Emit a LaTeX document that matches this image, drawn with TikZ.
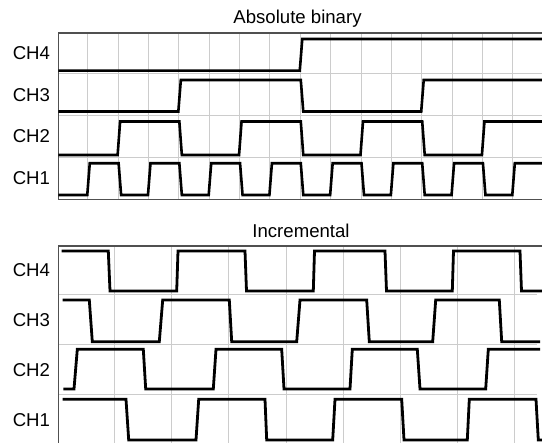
\documentclass[tikz,border=0pt]{standalone}
\usepackage{fontspec}
\setmainfont{Liberation Sans}
\definecolor{gridgray}{HTML}{CCCCCC}
\definecolor{framegray}{HTML}{505050}
\newcommand\gx[1]{(57.4+30.36*(#1))}
\newcommand\hx[1]{(57.06+57.24*(#1))}
\begin{document}
\begin{tikzpicture}[x=1pt,y=-1pt,
  gridline/.style={gridgray,line width=1pt},
  frameline/.style={framegray,line width=1.4pt},
  wave/.style={black,line width=2.6pt,line join=miter,line cap=butt},
  wavei/.style={black,line width=2.8pt,line join=miter,line cap=butt},
  lbl/.style={font=\fontsize{18.6}{20}\selectfont,inner sep=0pt},
  ]
\useasboundingbox (0,0) rectangle (542,443);
\clip (0,0) rectangle (542,443);
% ---------- top panel: absolute binary ----------
\node[lbl,anchor=base] (titleA) at (297.5,24) {Absolute binary};
\foreach \k in {1,...,15} \draw[gridline] ({\gx{\k}},33) -- ({\gx{\k}},199.7);
\foreach \y in {74,115.3,157.5} \draw[gridline] (58.3,\y) -- (542,\y);
\draw[frameline] (542,33) -- (58.3,33) -- (58.3,199.7) -- (542,199.7);
\node[lbl,anchor=west] (a4) at (12.6,53.5) {CH4};
\node[lbl,anchor=west] (a3) at (12.6,95.5) {CH3};
\node[lbl,anchor=west] (a2) at (12.6,136.5) {CH2};
\node[lbl,anchor=west] (a1) at (12.6,178.5) {CH1};
% CH4
\draw[wave] (58.3,70.7) -- ({\gx{8}-0.5},70.7) -- ({\gx{8}+2},39) -- (542,39);
% CH3
\draw[wave] (58.3,111.5) -- ({\gx{4}-0.5},111.5) -- ({\gx{4}+2},80) -- ({\gx{8}+0.5},80) -- ({\gx{8}+3},111.5)
  -- ({\gx{12}-0.5},111.5) -- ({\gx{12}+2},80) -- (542,80);
% CH2
\draw[wave] (58.3,155) foreach \k in {2,6,10} { -- ({\gx{\k}-0.5},155) -- ({\gx{\k}+2},121.5) -- ({\gx{\k+2}+0.5},121.5) -- ({\gx{\k+2}+3},155) }
  -- ({\gx{14}-0.5},155) -- ({\gx{14}+2},121.5) -- (542,121.5);
% CH1
\draw[wave] (58.3,195) foreach \k in {1,3,...,13} { -- ({\gx{\k}-0.5},195) -- ({\gx{\k}+2},163.3) -- ({\gx{\k+1}+0.5},163.3) -- ({\gx{\k+1}+3},195) }
  -- ({\gx{15}-0.5},195) -- ({\gx{15}+2},163.3) -- (542,163.3);
% ---------- bottom panel: incremental ----------
\node[lbl,anchor=base] (titleI) at (301,237.7) {Incremental};
\foreach \k in {1,...,8} \draw[gridline] ({\hx{\k}},246) -- ({\hx{\k}},443);
\foreach \y in {295,345,395} \draw[gridline] (58.3,\y) -- (537,\y);
\draw[frameline] (542,246) -- (58.3,246) -- (58.3,443);
\node[lbl,anchor=west] (i4) at (12.6,270.5) {CH4};
\node[lbl,anchor=west] (i3) at (12.6,320) {CH3};
\node[lbl,anchor=west] (i2) at (12.6,370) {CH2};
\node[lbl,anchor=west] (i1) at (12.6,420) {CH1};
% CH4
\draw[wavei] (61.7,251) -- (108.3,251) -- (110,291) -- (176.7,291) -- (178,251) -- (245,251) -- (246.5,291)
  -- (313.3,291) -- (314.5,251) -- (385,251) -- (386.5,291) -- (452.3,291) -- (453.5,251) -- (520,251)
  -- (521.5,291) -- (542,291);
% CH3
\draw[wavei] (62.7,300) -- (89.3,300) -- (92.3,341.7) -- (159.3,341.7) -- (162.7,300) -- (229.3,300)
  -- (231.7,341.7) -- (296.7,341.7) -- (300,300) -- (366.7,300) -- (369.3,341.7) -- (432.7,341.7)
  -- (435.7,300) -- (499.3,300) -- (501.7,341.7) -- (540,341.7);
% CH2
\draw[wavei] (63.3,389) -- (74,389) -- (77.3,349.3) -- (143.3,349.3) -- (145.7,389) -- (213.3,389)
  -- (216,349.3) -- (281.7,349.3) -- (284,389) -- (350,389) -- (352.3,349.3) -- (417.3,349.3)
  -- (420,389) -- (485.7,389) -- (488.3,349.3) -- (540,349.3);
% CH1
\draw[wavei] (62.7,399.3) -- (126,399.3) -- (128.7,440) -- (196,440) -- (198.7,399.3) -- (265,399.3)
  -- (266.7,440) -- (332.7,440) -- (335,399.3) -- (401.7,399.3) -- (404,440) -- (467.3,440)
  -- (469.3,399.3) -- (536,399.3) -- (538.3,440) -- (542,440);
\end{tikzpicture}
\end{document}
